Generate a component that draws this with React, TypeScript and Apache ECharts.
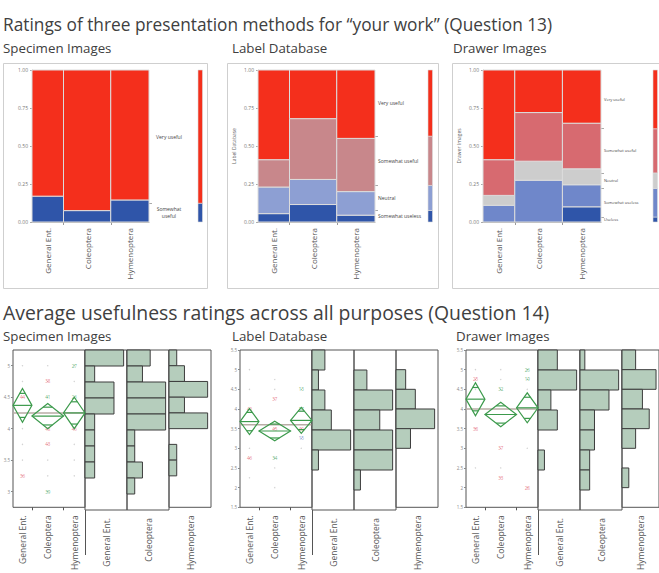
import React, { useEffect, useRef } from "react";
import * as echarts from "echarts";

const FONT = "'Open Sans', 'Noto Sans', 'DejaVu Sans', sans-serif";
const TEXT = "#404040";

// Respondent groups
const groups = ["General Ent.", "Coleoptera", "Hymenoptera"];

// ---------- Question 13: share of each rating inside every group (bottom → top) ----------
const q13GroupSizes = [14, 21, 17];

const specimenLevels = ["Somewhat useful", "Very useful"];
const specimenGeneral = [0.17, 0.83];
const specimenColeoptera = [0.075, 0.925];
const specimenHymenoptera = [0.145, 0.855];

const labelDbLevels = ["Somewhat useless", "Neutral", "Somewhat useful", "Very useful"];
const labelDbGeneral = [0.055, 0.175, 0.18, 0.59];
const labelDbColeoptera = [0.115, 0.165, 0.4, 0.32];
const labelDbHymenoptera = [0.045, 0.155, 0.35, 0.45];

const drawerLevels = ["Useless", "Somewhat useless", "Neutral", "Somewhat useful", "Very useful"];
const drawerGeneral = [0, 0.11, 0.065, 0.235, 0.59];
const drawerColeoptera = [0, 0.275, 0.125, 0.32, 0.28];
const drawerHymenoptera = [0.1, 0.145, 0.105, 0.3, 0.35];

const mosaicTicks = [0, 0.25, 0.5, 0.75, 1];

// ---------- Question 14: average rating per respondent ----------
const q14GroupSizes = [15, 25, 17];

const specimenAvgTicks = [3, 3.5, 4, 4.5, 5];
const specimenBinLows = [5, 4.75, 4.5, 4.25, 4, 3.75, 3.5, 3.25, 3, 2.75];
const specimenHistGeneral = [4, 1, 3, 3, 1, 1, 1, 1, 0, 0];
const specimenHistColeoptera = [3, 2, 5, 5, 5, 1, 1, 2, 1, 0];
const specimenHistHymenoptera = [1, 2, 5, 2, 5, 0, 1, 1, 0, 0];
const specimenMeans = [4.37, 4.2, 4.25];
const specimenCI = [0.27, 0.2, 0.25];
const specimenGrandMean = 4.25;
const specimenFlagged = [
  [0, 4.5, "44", "r"], [0, 3.25, "36", "r"],
  [1, 4.75, "38", "r"], [1, 4.5, "41", "g"], [1, 4.0, "48", "r"], [1, 3.75, "43", "r"], [1, 3.0, "39", "g"],
  [2, 5.0, "27", "g"], [2, 4.5, "26", "g"], [2, 4.0, "46", "r"],
];
const specimenOthers = [
  [0, 5], [0, 4.75], [0, 4], [0, 3.75], [0, 3.5], [1, 5], [1, 3.5], [1, 3.25], [2, 4.75], [2, 3.75], [2, 3.5], [2, 3.25],
];

const ratingTicks = [1.5, 2, 2.5, 3, 3.5, 4, 4.5, 5, 5.5];
const ratingBinLows = [5, 4.5, 4, 3.5, 3, 2.5, 2, 1.5];

const labelDbHistGeneral = [2, 1, 2, 3, 6, 1, 0, 0];
const labelDbHistColeoptera = [0, 2, 6, 4, 6, 6, 1, 0];
const labelDbHistHymenoptera = [0, 2, 4, 8, 3, 0, 0, 0];
const labelDbMeans = [3.68, 3.44, 3.71];
const labelDbCI = [0.33, 0.25, 0.33];
const labelDbGrandMean = 3.6;
const labelDbFlagged = [
  [0, 4.0, "40", "r"], [0, 2.75, "46", "r"],
  [1, 4.25, "37", "r"], [1, 3.5, "45", "r"], [1, 2.75, "34", "g"],
  [2, 4.5, "13", "g"], [2, 4.0, "17", "g"], [2, 3.5, "40", "r"], [2, 3.25, "15", "b"],
];
const labelDbOthers = [
  [0, 5], [0, 4.5], [0, 3], [0, 2.25], [1, 4.75], [1, 4.5], [1, 2.5], [1, 2], [2, 3],
];

const drawerHistGeneral = [3, 6, 2, 3, 0, 1, 0, 0];
const drawerHistColeoptera = [1, 8, 6, 3, 3, 2, 2, 0];
const drawerHistHymenoptera = [2, 5, 3, 4, 2, 0, 1, 0];
const drawerMeans = [4.25, 3.86, 4.03];
const drawerCI = [0.42, 0.31, 0.38];
const drawerGrandMean = 4.0;
const drawerFlagged = [
  [0, 4.75, "25", "r"], [0, 3.5, "38", "r"],
  [1, 4.5, "32", "g"], [1, 3.0, "37", "r"], [1, 2.25, "33", "r"],
  [2, 5.0, "26", "g"], [2, 4.75, "19", "g"], [2, 2.0, "28", "r"],
];
const drawerOthers = [
  [0, 5], [0, 4.5], [0, 2.5], [1, 5], [1, 4.75], [1, 2.5], [2, 4.5], [2, 3],
];

// ---------- styling & layout ----------
const RED = "#F42F1C";
const DARK_BLUE = "#2F55A9";
const TONES: Record<string, string> = { r: "#e2606f", g: "#3f9f5e", b: "#5b78c6" };
const DIAMOND = "#3c9a4c";
const HIST_FILL = "#b5cdbc";
const FRAME = "#555555";

const TOP_Y = 70;
const TOP_H = 152;
const BOT_Y = 350;
const BOT_H = 160;
const DIAMOND_W = 72;
const HIST_W = 42;
const SUB_SIZE = 13.3;

const q13Panels = [
  {
    title: "Specimen Images", levels: specimenLevels,
    shares: [specimenGeneral, specimenColeoptera, specimenHymenoptera],
    colors: [DARK_BLUE, RED], yName: "",
    frameX: 3, frameW: 204, plotLeft: 32, plotW: 117, barLeft: 198,
    labelAlign: "center", labelMargin: 20, labelSize: 5, wrap: true, subX: 3,
  },
  {
    title: "Label Database", levels: labelDbLevels,
    shares: [labelDbGeneral, labelDbColeoptera, labelDbHymenoptera],
    colors: [DARK_BLUE, "#8d9fd3", "#c8878b", RED], yName: "Label Database",
    frameX: 227, frameW: 211, plotLeft: 258, plotW: 117, barLeft: 428,
    labelAlign: "left", labelMargin: 3, labelSize: 5, wrap: false, subX: 232,
  },
  {
    title: "Drawer Images", levels: drawerLevels,
    shares: [drawerGeneral, drawerColeoptera, drawerHymenoptera],
    colors: [DARK_BLUE, "#6f87ca", "#cdcdcd", "#d76a70", RED], yName: "Drawer Images",
    frameX: 452, frameW: 230, plotLeft: 483, plotW: 118, barLeft: 653,
    labelAlign: "left", labelMargin: 3, labelSize: 4, wrap: false, subX: 453,
  },
];

const q14Panels = [
  {
    title: "Specimen Images", left: 13, min: 2.75, max: 5.25, ticks: specimenAvgTicks,
    binLows: specimenBinLows, binW: 0.25,
    hist: [specimenHistGeneral, specimenHistColeoptera, specimenHistHymenoptera],
    means: specimenMeans, ci: specimenCI, grand: specimenGrandMean,
    flagged: specimenFlagged, others: specimenOthers, subX: 3,
  },
  {
    title: "Label Database", left: 240, min: 1.5, max: 5.5, ticks: ratingTicks,
    binLows: ratingBinLows, binW: 0.5,
    hist: [labelDbHistGeneral, labelDbHistColeoptera, labelDbHistHymenoptera],
    means: labelDbMeans, ci: labelDbCI, grand: labelDbGrandMean,
    flagged: labelDbFlagged, others: labelDbOthers, subX: 232,
  },
  {
    title: "Drawer Images", left: 466, min: 1.5, max: 5.5, ticks: ratingTicks,
    binLows: ratingBinLows, binW: 0.5,
    hist: [drawerHistGeneral, drawerHistColeoptera, drawerHistHymenoptera],
    means: drawerMeans, ci: drawerCI, grand: drawerGrandMean,
    flagged: drawerFlagged, others: drawerOthers, subX: 456,
  },
];

const sum = (a: number[]) => a.reduce((s, v) => s + v, 0);
const nearestName = (vals: number[], names: string[]) => (v: number) => {
  let bi = 0;
  vals.forEach((c, i) => {
    if (Math.abs(c - v) < Math.abs(vals[bi] - v)) bi = i;
  });
  return names[bi];
};

function buildOption() {
  const grid: any[] = [];
  const xAxis: any[] = [];
  const yAxis: any[] = [];
  const series: any[] = [];
  const graphic: any[] = [];

  const addGrid = (g: any) => {
    grid.push(g);
    return grid.length - 1;
  };

  // ---- Question 13 mosaics ----
  const total13 = sum(q13GroupSizes);
  const widths = q13GroupSizes.map((n) => n / total13);
  const bounds: number[] = [];
  const centers: number[] = [];
  let acc = 0;
  widths.forEach((w, i) => {
    centers.push(acc + w / 2);
    acc += w;
    if (i < widths.length - 1) bounds.push(acc);
  });

  q13Panels.forEach((p) => {
    const gi = addGrid({ left: p.plotLeft, top: TOP_Y, width: p.plotW, height: TOP_H });

    xAxis.push({
      gridIndex: gi, type: "value", min: 0, max: 1,
      splitLine: { show: false },
      axisLine: { show: true, lineStyle: { color: "#aaaaaa" } },
      axisTick: { show: true, customValues: bounds, length: 3, lineStyle: { color: "#999999" } },
      axisLabel: {
        customValues: centers, rotate: 90, margin: 6, fontSize: 8, color: "#555555", fontFamily: FONT,
        formatter: nearestName(centers, groups),
      },
    });
    const xi = xAxis.length - 1;

    yAxis.push({
      gridIndex: gi, type: "value", min: 0, max: 1,
      name: p.yName, nameLocation: "middle", nameGap: 22,
      nameTextStyle: { fontSize: 5, color: "#666666", fontFamily: FONT },
      splitLine: { show: false },
      axisLine: { show: true, lineStyle: { color: "#bbbbbb" } },
      axisTick: { show: true, customValues: mosaicTicks, length: 2, lineStyle: { color: "#aaaaaa" } },
      axisLabel: {
        customValues: mosaicTicks, margin: 4, fontSize: 5, color: "#777777", fontFamily: FONT,
        formatter: (v: number) => v.toFixed(2),
      },
    });
    const yi = yAxis.length - 1;

    // overall share of each level, weighted by group size
    const marginal = p.levels.map((_, li) => sum(p.shares.map((col, g) => col[li] * widths[g])));
    const mCuts: number[] = [];
    const mMids: number[] = [];
    let m = 0;
    marginal.forEach((s, li) => {
      mMids.push(m + s / 2);
      m += s;
      if (li < marginal.length - 1) mCuts.push(m);
    });

    yAxis.push({
      gridIndex: gi, type: "value", min: 0, max: 1, position: "right",
      splitLine: { show: false },
      axisLine: { show: false },
      axisTick: { show: true, customValues: mCuts, length: 3, lineStyle: { color: "#aaaaaa" } },
      axisLabel: {
        customValues: mMids, margin: p.labelMargin, fontSize: p.labelSize, color: "#444444",
        fontFamily: FONT, align: p.labelAlign, lineHeight: p.labelSize + 2,
        formatter: (v: number) => {
          const name = nearestName(mMids, p.levels)(v);
          return p.wrap && name.length > 12 ? name.replace(" ", "\n") : name;
        },
      },
    });

    const cells: number[][] = [];
    let x = 0;
    p.shares.forEach((col, g) => {
      let y = 0;
      col.forEach((s, li) => {
        if (s > 0) cells.push([x, x + widths[g], y, y + s, li]);
        y += s;
      });
      x += widths[g];
    });

    series.push({
      type: "custom", xAxisIndex: xi, yAxisIndex: yi, data: cells,
      renderItem: (_: any, api: any) => {
        const a = api.coord([api.value(0), api.value(3)]);
        const b = api.coord([api.value(1), api.value(2)]);
        return {
          type: "rect",
          shape: { x: a[0], y: a[1], width: b[0] - a[0], height: b[1] - a[1] },
          style: { fill: p.colors[api.value(4)], stroke: "#dcdcdc", lineWidth: 1 },
        };
      },
    });

    // marginal bar at the right
    const mg = addGrid({ left: p.barLeft, top: TOP_Y, width: 4.5, height: TOP_H });
    xAxis.push({ gridIndex: mg, type: "value", min: 0, max: 1, show: false });
    const mxi = xAxis.length - 1;
    yAxis.push({ gridIndex: mg, type: "value", min: 0, max: 1, show: false });
    const myi = yAxis.length - 1;
    const segs: number[][] = [];
    let s0 = 0;
    marginal.forEach((s, li) => {
      if (s > 0) segs.push([s0, s0 + s, li]);
      s0 += s;
    });
    series.push({
      type: "custom", xAxisIndex: mxi, yAxisIndex: myi, data: segs,
      renderItem: (_: any, api: any) => {
        const a = api.coord([0, api.value(1)]);
        const b = api.coord([1, api.value(0)]);
        return {
          type: "rect",
          shape: { x: a[0], y: a[1], width: b[0] - a[0], height: b[1] - a[1] },
          style: { fill: p.colors[api.value(2)], stroke: "#dcdcdc", lineWidth: 0.6 },
        };
      },
    });

    graphic.push({
      type: "rect", shape: { x: p.frameX + 0.5, y: 63.5, width: p.frameW, height: 225 },
      style: { fill: "none", stroke: "#cfcfcf", lineWidth: 1 },
    });
    graphic.push({
      type: "text", x: p.subX, y: 48,
      style: { text: p.title, fontSize: SUB_SIZE, fontFamily: FONT, fill: TEXT, verticalAlign: "middle" },
    });
  });

  // ---- Question 14 diamonds and histograms ----
  const total14 = sum(q14GroupSizes);
  const starts: number[] = [];
  const mids: number[] = [];
  const cuts: number[] = [];
  let c = 0;
  q14GroupSizes.forEach((n, i) => {
    starts.push(c);
    mids.push(c + n / 2);
    c += n;
    if (i < q14GroupSizes.length - 1) cuts.push(c);
  });

  q14Panels.forEach((p) => {
    const gi = addGrid({
      left: p.left, top: BOT_Y, width: DIAMOND_W, height: BOT_H,
      show: true, borderColor: FRAME, borderWidth: 1,
    });
    xAxis.push({
      gridIndex: gi, type: "value", min: 0, max: total14,
      splitLine: { show: false },
      axisLine: { show: false },
      axisTick: { show: true, customValues: cuts, length: 3, lineStyle: { color: FRAME } },
      axisLabel: {
        customValues: mids, rotate: 90, margin: 8, fontSize: 8.5, color: "#555555", fontFamily: FONT,
        formatter: nearestName(mids, groups),
      },
    });
    const xi = xAxis.length - 1;
    yAxis.push({
      gridIndex: gi, type: "value", min: p.min, max: p.max,
      splitLine: { show: false },
      axisLine: { show: false },
      axisTick: { show: true, customValues: p.ticks, length: 2, lineStyle: { color: "#888888" } },
      axisLabel: { customValues: p.ticks, margin: 3, fontSize: 4.5, color: "#888888", fontFamily: FONT },
    });
    const yi = yAxis.length - 1;

    // grand mean
    series.push({
      type: "custom", xAxisIndex: xi, yAxisIndex: yi, z: 2, data: [[p.grand]],
      renderItem: (_: any, api: any) => {
        const a = api.coord([0, api.value(0)]);
        const b = api.coord([total14, api.value(0)]);
        return {
          type: "line", shape: { x1: a[0], y1: a[1], x2: b[0], y2: b[1] },
          style: { stroke: "#b9ada6", lineWidth: 1.5 },
        };
      },
    });

    // other respondents as faint dots
    series.push({
      type: "scatter", xAxisIndex: xi, yAxisIndex: yi, z: 3, symbolSize: 1.4,
      itemStyle: { color: "#c8c8c8" },
      data: p.others.map((d: any[]) => [mids[d[0]], d[1]]),
    });

    // flagged respondents labelled with their id
    series.push({
      type: "scatter", xAxisIndex: xi, yAxisIndex: yi, z: 4, symbolSize: 1,
      data: p.flagged.map((d: any[]) => ({
        value: [mids[d[0]], d[1]],
        itemStyle: { color: TONES[d[3]] },
        label: {
          show: true, position: "inside", formatter: String(d[2]),
          fontSize: 4.5, color: TONES[d[3]], fontFamily: FONT,
        },
      })),
    });

    // means diamonds
    const diamonds = p.means.map((mean: number, i: number) => [starts[i], starts[i] + q14GroupSizes[i], mean, p.ci[i]]);
    series.push({
      type: "custom", xAxisIndex: xi, yAxisIndex: yi, z: 5, data: diamonds,
      renderItem: (_: any, api: any) => {
        const x0 = api.value(0), x1 = api.value(1), mean = api.value(2), h = api.value(3);
        const cx = (x0 + x1) / 2;
        const half = (x1 - x0) / 2;
        const k = Math.SQRT1_2;
        const L = api.coord([x0, mean]);
        const R = api.coord([x1, mean]);
        const T = api.coord([cx, mean + h]);
        const B = api.coord([cx, mean - h]);
        const u0 = api.coord([cx - (1 - k) * half, mean + k * h]);
        const u1 = api.coord([cx + (1 - k) * half, mean + k * h]);
        const d0 = api.coord([cx - (1 - k) * half, mean - k * h]);
        const d1 = api.coord([cx + (1 - k) * half, mean - k * h]);
        const st = { stroke: DIAMOND, lineWidth: 1.2, fill: "none" };
        return {
          type: "group",
          children: [
            { type: "polygon", shape: { points: [L, T, R, B] }, style: st },
            { type: "line", shape: { x1: L[0], y1: L[1], x2: R[0], y2: R[1] }, style: st },
            { type: "line", shape: { x1: u0[0], y1: u0[1], x2: u1[0], y2: u1[1] }, style: st },
            { type: "line", shape: { x1: d0[0], y1: d0[1], x2: d1[0], y2: d1[1] }, style: st },
          ],
        };
      },
    });

    // histograms, one per group
    p.hist.forEach((counts: number[], g: number) => {
      const hmax = Math.max(...counts) / 0.92;
      const hg = addGrid({
        left: p.left + DIAMOND_W + HIST_W * g, top: BOT_Y, width: HIST_W, height: BOT_H,
        show: true, borderColor: FRAME, borderWidth: 1,
      });
      xAxis.push({
        gridIndex: hg, type: "value", min: 0, max: hmax,
        splitLine: { show: false }, axisLine: { show: false }, axisTick: { show: false },
        axisLabel: {
          customValues: [hmax / 2], rotate: 90, margin: 8, fontSize: 8.5, color: "#555555",
          fontFamily: FONT, formatter: () => groups[g],
        },
      });
      const hx = xAxis.length - 1;
      yAxis.push({ gridIndex: hg, type: "value", min: p.min, max: p.max, show: false });
      const hy = yAxis.length - 1;
      series.push({
        type: "custom", xAxisIndex: hx, yAxisIndex: hy,
        data: p.binLows.map((lo: number, i: number) => [lo, lo + p.binW, counts[i]]).filter((d: number[]) => d[2] > 0),
        renderItem: (_: any, api: any) => {
          const a = api.coord([0, api.value(1)]);
          const b = api.coord([api.value(2), api.value(0)]);
          return {
            type: "rect",
            shape: { x: a[0], y: a[1], width: b[0] - a[0], height: b[1] - a[1] },
            style: { fill: HIST_FILL, stroke: "#3d3d3d", lineWidth: 1 },
          };
        },
      });
    });

    const sepX = p.left + DIAMOND_W + 0.5;
    graphic.push({
      type: "line", shape: { x1: sepX, y1: BOT_Y + BOT_H, x2: sepX, y2: 555 },
      style: { stroke: FRAME, lineWidth: 1 },
    });
    graphic.push({
      type: "text", x: p.subX, y: 336,
      style: { text: p.title, fontSize: SUB_SIZE, fontFamily: FONT, fill: TEXT, verticalAlign: "middle" },
    });
  });

  graphic.push({
    type: "text", x: 3, y: 24,
    style: {
      text: "Ratings of three presentation methods for “your work” (Question 13)",
      fontSize: 17.3, fontFamily: FONT, fill: TEXT, verticalAlign: "middle",
    },
  });
  graphic.push({
    type: "text", x: 3, y: 312,
    style: {
      text: "Average usefulness ratings across all purposes (Question 14)",
      fontSize: 19.4, fontFamily: FONT, fill: TEXT, verticalAlign: "middle",
    },
  });

  return {
    animation: false,
    backgroundColor: "#ffffff",
    textStyle: { fontFamily: FONT },
    grid, xAxis, yAxis, series, graphic,
  };
}

export default function App() {
  const ref = useRef<HTMLDivElement>(null);
  useEffect(() => {
    if (!ref.current) return;
    const chart = echarts.init(ref.current, undefined, { renderer: "svg" });
    chart.setOption(buildOption() as any);
    return () => chart.dispose();
  }, []);
  return (
    <div
      ref={ref}
      style={{ position: "absolute", left: 0, top: 0, width: 659, height: 573, background: "#fff" }}
    />
  );
}
